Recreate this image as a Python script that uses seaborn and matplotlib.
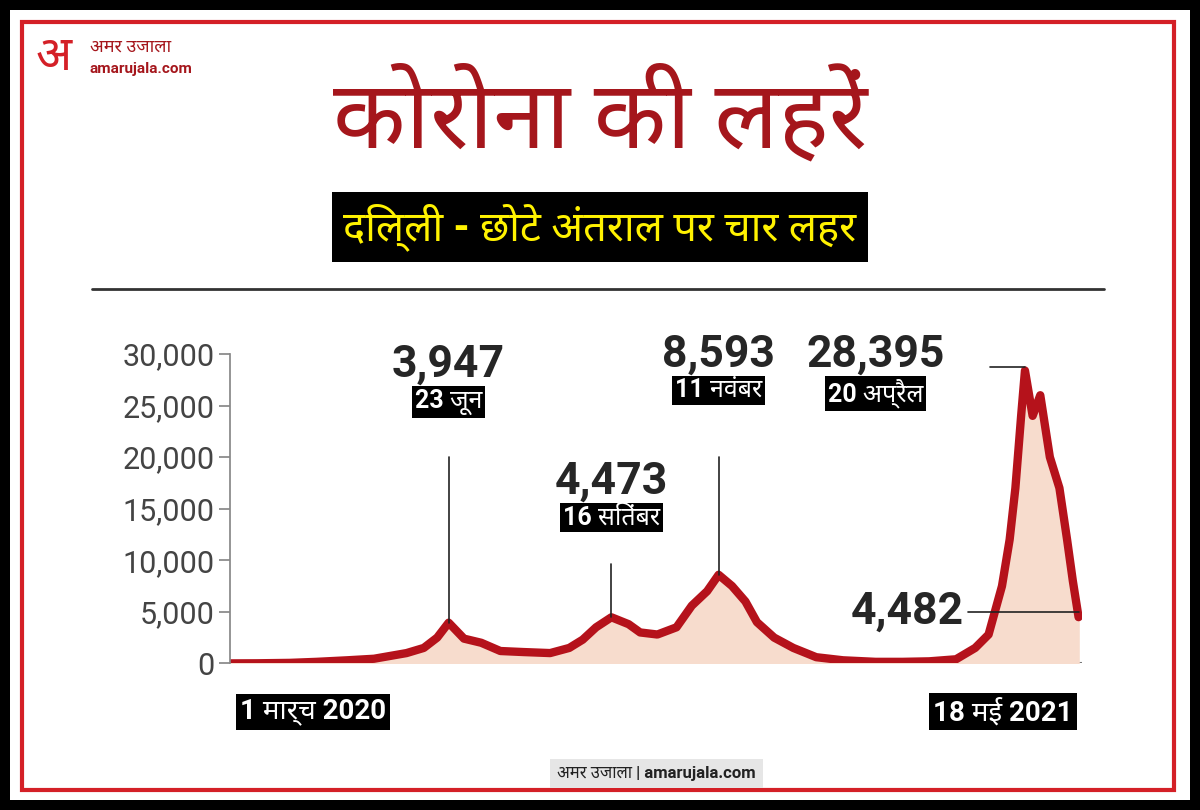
import matplotlib
matplotlib.use("Agg")
import matplotlib.pyplot as plt
import matplotlib.patches as mp
import seaborn as sns
import pandas as pd

dates = ["2020-03-01","2020-03-15","2020-04-01","2020-04-15","2020-05-01","2020-05-15","2020-06-01","2020-06-10",
         "2020-06-17","2020-06-23","2020-07-01","2020-07-10","2020-07-20","2020-08-01","2020-08-15","2020-08-25",
         "2020-09-01","2020-09-08","2020-09-16","2020-09-25","2020-10-01","2020-10-10","2020-10-20","2020-10-28",
         "2020-11-05","2020-11-11","2020-11-18","2020-11-25","2020-12-01","2020-12-10","2020-12-20","2021-01-01",
         "2021-01-15","2021-02-01","2021-02-15","2021-03-01","2021-03-15","2021-03-25","2021-04-01","2021-04-08",
         "2021-04-12","2021-04-15","2021-04-18","2021-04-20","2021-04-24","2021-04-28","2021-05-03","2021-05-08",
         "2021-05-12","2021-05-15","2021-05-18"]
cases = [0,10,50,150,300,450,1000,1500,2500,3947,2400,2000,1200,1100,1000,1500,2300,3500,4473,3800,3000,2800,
         3500,5600,7000,8593,7500,6000,4000,2500,1500,600,300,150,150,200,400,1500,2800,7500,12000,17000,24000,
         28395,24000,26000,20000,17000,12000,8000,4482]
yticks = [0,5000,10000,15000,20000,25000,30000]
ytick_labels = ["0","5,000","10,000","15,000","20,000","25,000","30,000"]

sns.set_theme(style="white")
plt.rcParams['font.family'] = ['Roboto', 'Noto Sans', 'DejaVu Sans']

df = pd.DataFrame({"date": pd.to_datetime(dates), "cases": cases})
df["day"] = (df["date"] - df["date"].iloc[0]).dt.days

fig = plt.figure(figsize=(12, 8.1), dpi=100)
fig.patch.set_facecolor("black")
fig.patches.append(mp.Rectangle((0.008, 0.012), 0.984, 0.976, transform=fig.transFigure, facecolor="white",
                                edgecolor="none", zorder=-10))
fig.patches.append(mp.Rectangle((0.018, 0.025), 0.96, 0.948, transform=fig.transFigure, facecolor="none",
                                edgecolor="#d42027", lw=3, zorder=-9))

red = "#a5161c"
fig.text(0.5, 0.855, "कोरोना की लहरें", ha="center", va="center", fontsize=68, fontweight="bold", color=red)
fig.text(0.5, 0.72, "दिल्ली - छोटे अंतराल पर चार लहर", ha="center", va="center", fontsize=30, fontweight="bold",
         color="#fff200", bbox=dict(facecolor="black", edgecolor="none", pad=8))
fig.add_artist(plt.Line2D([0.077, 0.92], [0.643, 0.643], transform=fig.transFigure, color="#333", lw=2))
fig.text(0.03, 0.93, "अ", fontsize=34, fontweight="bold", color="#d42027", va="center")
fig.text(0.075, 0.942, "अमर उजाला", fontsize=13, fontweight="bold", color=red, va="center")
fig.text(0.075, 0.915, "amarujala.com", fontsize=11, fontweight="bold", color=red, va="center")
fig.text(0.63, 0.045, "अमर उजाला | amarujala.com", ha="right", va="center", fontsize=12, fontweight="bold", color="#222",
         bbox=dict(facecolor="#e6e6e6", edgecolor="none", pad=5))

ax = fig.add_axes([0.192, 0.181, 0.71, 0.382])
ax.set_facecolor("none")
ax.fill_between(df["day"], df["cases"], color="#f7dccd", zorder=1)
sns.lineplot(data=df, x="day", y="cases", ax=ax, color="#b5121b", lw=6, zorder=2)
ax.set_xlim(0, df["day"].iloc[-1] + 2)
ax.set_ylim(0, 30000)
ax.set_yticks(yticks)
ax.set_yticklabels(ytick_labels, fontsize=22, color="#444")
ax.set_xticks([])
ax.set_xlabel(""); ax.set_ylabel("")
for s in ["top", "right", "bottom"]:
    ax.spines[s].set_visible(False)
ax.spines["left"].set_color("#888")
ax.tick_params(axis="y", length=8, color="#888", left=True)
ax.axhline(0, color="#777", lw=1.5, zorder=0)

def peak(i, ytop, val, lab, ty):
    x = df["day"].iloc[i]; y = df["cases"].iloc[i]
    ax.plot([x, x], [y, ytop], color="#222", lw=1.2, clip_on=False, zorder=3)
    ax.text(x, ty, val, ha="center", va="bottom", fontsize=32, fontweight="bold", clip_on=False)
    ax.text(x, ty - 300, lab, ha="center", va="top", fontsize=18, fontweight="bold", color="white",
            bbox=dict(facecolor="black", edgecolor="none", pad=2), clip_on=False)

peak(9, 20000, "3,947", "23 जून", 26900)
peak(18, 9600, "4,473", "16 सितंबर", 15600)
peak(25, 20000, "8,593", "11 नवंबर", 27900)
ax.plot([df["day"].iloc[43] - 18, df["day"].iloc[43]], [28700, 28700], color="#222", lw=1.2, zorder=3)
ax.text(df["day"].iloc[43] - 78, 27900, "28,395", ha="center", va="bottom", fontsize=32, fontweight="bold")
ax.text(df["day"].iloc[43] - 78, 27600, "20 अप्रैल", ha="center", va="top", fontsize=18, fontweight="bold", color="white",
        bbox=dict(facecolor="black", edgecolor="none", pad=2))
ax.plot([df["day"].iloc[-1] - 58, df["day"].iloc[-1]], [5000, 5000], color="#222", lw=1.2, zorder=3)
ax.text(df["day"].iloc[-1] - 60, 5000, "4,482", ha="right", va="center", fontsize=32, fontweight="bold")
ax.text(5, -4700, "1 मार्च 2020", ha="left", va="center", fontsize=20, fontweight="bold", color="white",
        bbox=dict(facecolor="black", edgecolor="none", pad=3), clip_on=False)
ax.text(df["day"].iloc[-1] - 3, -4700, "18 मई 2021", ha="right", va="center", fontsize=20, fontweight="bold", color="white",
        bbox=dict(facecolor="black", edgecolor="none", pad=3), clip_on=False)

fig.savefig("out.png", dpi=100, facecolor=fig.get_facecolor())
